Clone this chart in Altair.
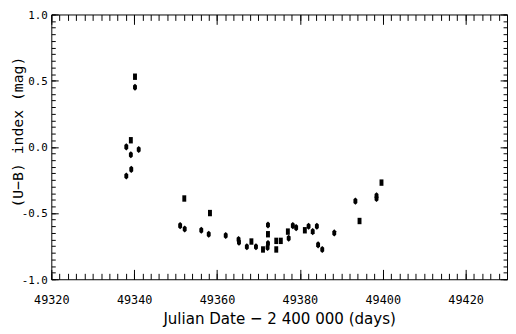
import altair as alt
import pandas as pd

# ---- data ----
dot_jd = [49340.2, 49338.1, 49341.1, 49339.2, 49339.3, 49338.1,
          49351.1, 49352.2, 49356.2, 49358.0, 49362.1, 49365.2, 49365.3,
          49367.2, 49369.4, 49372.3, 49372.3, 49372.2, 49377.3, 49378.3,
          49379.1, 49382.1, 49383.1, 49384.1, 49384.4, 49385.4, 49388.3,
          49393.4, 49398.5, 49398.5]
dot_ub = [0.45, 0.00, -0.02, -0.06, -0.17, -0.22,
          -0.595, -0.62, -0.63, -0.66, -0.67, -0.70, -0.72,
          -0.755, -0.755, -0.59, -0.73, -0.76, -0.69, -0.595,
          -0.61, -0.60, -0.64, -0.60, -0.74, -0.775, -0.65,
          -0.41, -0.37, -0.39]
sq_jd = [49340.2, 49339.2, 49352.1, 49358.3, 49368.3, 49371.1, 49372.3,
         49374.3, 49374.3, 49375.4, 49377.1, 49381.2, 49394.4, 49399.7]
sq_ub = [0.53, 0.05, -0.39, -0.50, -0.715, -0.775, -0.66,
         -0.71, -0.775, -0.71, -0.64, -0.63, -0.56, -0.27]

x_major = [49320, 49340, 49360, 49380, 49400, 49420]
y_major = [-1.0, -0.5, 0.0, 0.5, 1.0]
x_title = "Julian Date \u2212 2 400 000 (days)"
y_title = "(U\u2212B)   index       (mag)"

df = pd.DataFrame({
    "jd": dot_jd + sq_jd,
    "ub": dot_ub + sq_ub,
    "kind": ["dot"] * len(dot_jd) + ["square"] * len(sq_jd),
})

x_minor = list(range(49320, 49431, 2))
y_minor = [round(-1 + 0.05 * i, 2) for i in range(41)]

xscale = alt.Scale(domain=[49320, 49430], nice=False, zero=False)
yscale = alt.Scale(domain=[-1, 1], nice=False, zero=False)

MONO = "DejaVu Sans Mono"
COND = "DejaVu Sans Condensed, DejaVu Sans"

DOT = "M0,-1L0.55,-0.5L0.55,0.5L0,1L-0.55,0.5L-0.55,-0.5Z"
SQ = "M-0.55,-0.9L0.55,-0.9L0.55,0.9L-0.55,0.9Z"

base = alt.Chart(df)


def tick_axis(orient, values, size):
    return alt.Axis(orient=orient, values=values, tickSize=size, offset=-size,
                    labels=False, domain=False, grid=False, ticks=True,
                    tickColor="black", tickWidth=1)


def tick_layer(xo, xv, xs, yo, yv, ys):
    return base.mark_point(opacity=0).encode(
        x=alt.X("jd:Q", scale=xscale, title=None, axis=tick_axis(xo, xv, xs)),
        y=alt.Y("ub:Q", scale=yscale, title=None, axis=tick_axis(yo, yv, ys)),
    )


points = base.mark_point(filled=True, color="black", opacity=1, size=52, strokeWidth=0).encode(
    x=alt.X("jd:Q", scale=xscale, axis=alt.Axis(
        orient="bottom", values=x_major, format="d", ticks=False, tickSize=0,
        domain=False, grid=False, labelPadding=16, labelFont=MONO, labelFontSize=12,
        labelColor="black", labelFlush=False, labelOverlap=False,
        title=x_title, titleFont=COND, titleFontSize=17, titleFontWeight="normal",
        titleColor="black", titleY=32, titleBaseline="top")),
    y=alt.Y("ub:Q", scale=yscale, axis=alt.Axis(
        orient="left", values=y_major, ticks=False, tickSize=0, domain=False, grid=False,
        labelExpr="replace(format(datum.value, '.1f'), '\u2212', '-')",
        labelPadding=4, labelOffset=1, labelFont=MONO, labelFontSize=11, labelColor="black",
        labelFlush=False, labelOverlap=False,
        title=y_title, titleFont=MONO, titleFontSize=15, titleFontWeight="normal",
        titleColor="black", titleAngle=270, titleX=-34, titleY=119,
        titleBaseline="middle", titleAlign="center")),
    shape=alt.Shape("kind:N", scale=alt.Scale(domain=["dot", "square"], range=[DOT, SQ]), legend=None),
)

chart = alt.layer(
    tick_layer("bottom", x_major, 10, "left", y_major, 7),
    tick_layer("bottom", x_minor, 6, "left", y_minor, 4),
    tick_layer("top", x_major, 10, "right", y_major, 7),
    tick_layer("top", x_minor, 6, "right", y_minor, 4),
    points,
).resolve_axis(x="independent", y="independent").properties(
    width=463, height=269,
    autosize=alt.AutoSizeParams(type="none"),
    padding={"left": 44, "top": 4, "right": 1, "bottom": 51},
    background="white",
).configure_view(stroke="black", strokeWidth=1)

chart.save("out.html", embed_options={"renderer": "svg", "actions": False})
